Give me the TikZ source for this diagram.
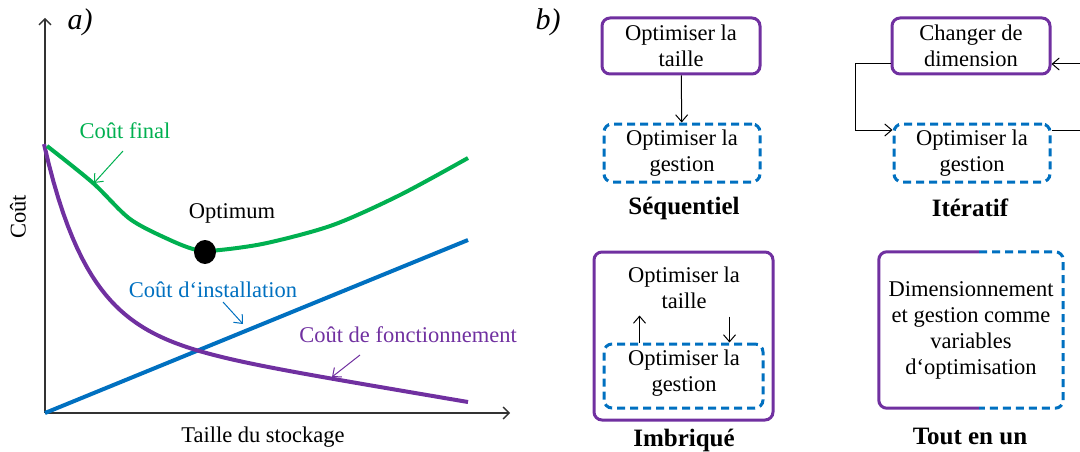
\documentclass[tikz,border=0pt]{standalone}
\usepackage{fontspec}
\setmainfont{Liberation Serif}
\usetikzlibrary{arrows.meta}
\usetikzlibrary{calc}
\definecolor{cviolet}{RGB}{112,48,160}
\definecolor{cbleu}{RGB}{0,112,192}
\definecolor{cvert}{RGB}{0,176,80}
\tikzset{
 taille/.style={draw=cviolet, line width=3pt, rounded corners=8pt, minimum width=158pt, minimum height=56pt, align=center},
 gestion/.style={draw=cbleu, line width=3pt, dash pattern=on 8pt off 5pt, rounded corners=8pt, minimum width=156pt, minimum height=58pt, align=center},
 fleche/.style={-{Straight Barb[length=7pt,width=12pt]}, line width=1pt},
 titre/.style={font=\fontsize{25}{28}\selectfont\bfseries},
 courbe/.style={line width=4pt, line join=round}
}

\begin{document}
\begin{tikzpicture}[x=1pt, y=-1pt, font=\fontsize{22.5}{26}\selectfont]
\useasboundingbox (0,0) rectangle (1080,452);
% a) courbes de cout
\coordinate (O) at (45,413);
\coordinate (ymax) at (45,18);
\coordinate (xmax) at (510,413);
\draw[black!80, line width=1.3pt, -{Straight Barb[length=6pt,width=12pt]}] (O)--(ymax);
\draw[black!80, line width=1.3pt, -{Straight Barb[length=6pt,width=12pt]}] (O)--(xmax);
\node[font=\fontsize{30}{32}\selectfont\itshape] (pa) at (80,22) {a)};
\node[rotate=90] (ylab) at (18,217) {Coût};
\node (xlab) at (263,437) {Taille du stockage};
\draw[cbleu, courbe] (O)--(468,240);
\draw[cviolet, courbe] plot[domain=44:468, samples=90] (\x, {413-(82.9-0.1696*(\x-44)+186*exp(-(\x-44)/44))});
\draw[cvert, courbe] plot[smooth] coordinates {(47,146) (93,183) (130,219) (170,240) (197,250) (220,250) (267,243) (333,225) (400,195) (468,158)};
\fill (205,252) ellipse (11 and 12);
\node (optimum) at (232,213) {Optimum};
\node[text=cvert] (lfinal) at (125,131) {Coût final};
\node[text=cbleu] (linst) at (213,290) {Coût d‘installation};
\node[text=cviolet] (lfonc) at (408,335) {Coût de fonctionnement};
\coordinate (pfinal) at (94,183);
\coordinate (pinst) at (243,324);
\coordinate (pfonc) at (332,377);
\draw[cvert, fleche] (123,151)--(pfinal);
\draw[cbleu, fleche] (223,302)--(pinst);
\draw[cviolet, fleche] (360,355)--(pfonc);

% b) strategies
\node[font=\fontsize{30}{32}\selectfont\itshape] (pb) at (548,22) {b)};
% sequentiel
\node[taille] (seqt) at (681,46) {Optimiser la\\taille};
\node[gestion] (seqg) at (682,153) {Optimiser la\\gestion};
\draw[fleche] (seqt)--(seqg);
\node[titre] (lseq) at (684,208) {Séquentiel};
% iteratif
\node[taille] (itet) at (971,46) {Changer de\\dimension};
\node[gestion] (iteg) at (972,153) {Optimiser la\\gestion};
\coordinate (droite1) at (1080,130);
\coordinate (droite2) at (1080,64);
\draw[fleche] ([yshift=-18pt]itet.west) -- ++(-35,0) |- ([yshift=23pt]iteg.west);
\draw[line width=1pt] ([yshift=23pt]iteg.east) -- (droite1);
\draw[fleche] (droite2) -- ([yshift=-18pt]itet.east);
\node[titre] (lite) at (970,208) {Itératif};
% imbrique
\node[taille, minimum width=179pt, minimum height=168pt] (imbt) at (683.5,336) {};
\node[align=center] (imbtxt) at (684,288) {Optimiser la\\taille};
\node[gestion, minimum width=159pt, minimum height=64pt] (imbg) at (683.5,376) {};
\node[align=center] (imbgtxt) at (684,373) {Optimiser la\\gestion};
\draw[fleche] ([xshift=-44pt]imbg.north) -- ++(0,-27);
\draw[fleche] ([xshift=46pt,yshift=26pt]imbg.north) -- ([xshift=46pt]imbg.north);
\node[titre] (limb) at (684,440) {Imbriqué};
% tout en un
\node[minimum width=184pt, minimum height=156pt, align=center] (tout) at (971,330) {Dimensionnement\\et gestion comme\\variables\\d‘optimisation};
\draw[cviolet, line width=3pt, rounded corners=8pt] ([xshift=8pt]tout.north) -- (tout.north west) -- (tout.south west) -- ([xshift=8pt]tout.south);
\draw[cbleu, line width=3pt, dash pattern=on 8pt off 5pt, rounded corners=8pt] ([xshift=8pt]tout.north) -- (tout.north east) -- (tout.south east) -- ([xshift=8pt]tout.south);
\node[titre] (ltout) at (970,436) {Tout en un};
\end{tikzpicture}
\end{document}
